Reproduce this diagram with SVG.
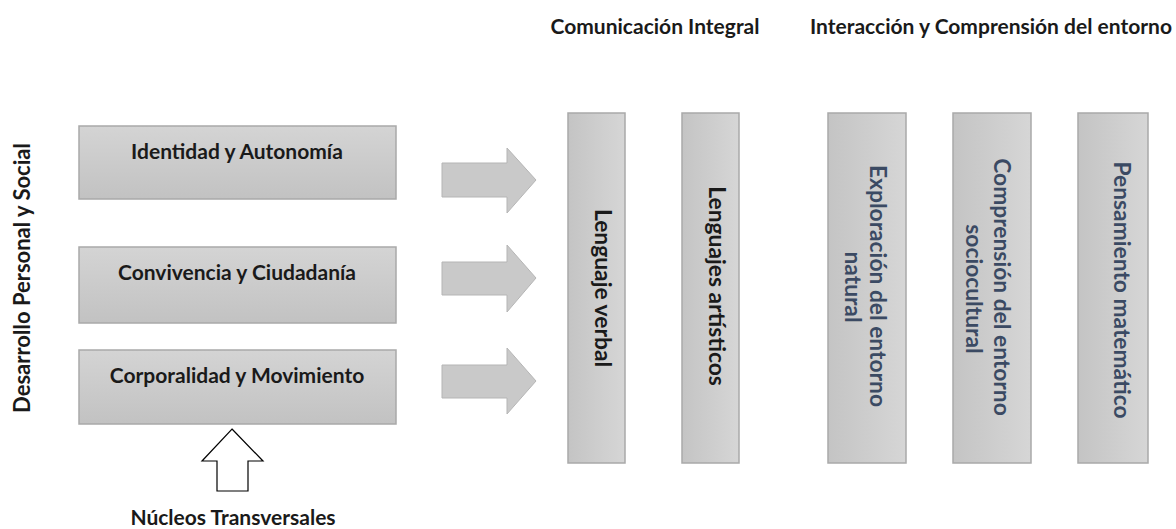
<svg xmlns="http://www.w3.org/2000/svg" width="1176" height="529" viewBox="0 0 1176 529">
<defs>
<linearGradient id="gh" x1="0" y1="0" x2="0" y2="1"><stop offset="0" stop-color="#d4d4d4"/><stop offset="1" stop-color="#c2c2c2"/></linearGradient>
<linearGradient id="gv" x1="0" y1="0" x2="1" y2="0"><stop offset="0" stop-color="#c4c4c4"/><stop offset="1" stop-color="#d6d6d6"/></linearGradient>
<style>
.hb{fill:url(#gh);stroke:#a9a9a9;stroke-width:1.5}
.vb{fill:url(#gv);stroke:#a9a9a9;stroke-width:1.5}
.ar{fill:#c9c9c9;stroke:#b5b5b5;stroke-width:1}
.t{font-family:Lato,"Liberation Sans",sans-serif;font-weight:bold;font-size:21px;fill:#1a1a1a;text-anchor:middle}
.tl{font-family:Lato,"Liberation Sans",sans-serif;font-weight:bold;font-size:22px;fill:#1a1a1a;text-anchor:middle}
.tv{font-family:Lato,"Liberation Sans",sans-serif;font-weight:bold;font-size:22.8px;fill:#1a1a1a;text-anchor:middle}
.tb{font-family:Lato,"Liberation Sans",sans-serif;font-weight:bold;font-size:22.8px;fill:#3b4a63;text-anchor:middle}
</style>
</defs>
<rect width="1176" height="529" fill="#ffffff"/>
<text class="t" x="655" y="34">Comunicación Integral</text>
<text class="t" x="991" y="34">Interacción y Comprensión del entorno</text>
<g id="desarrollo"><text class="tl" transform="translate(30,278) rotate(-90)">Desarrollo Personal y Social</text></g>
<g id="identidad"><rect class="hb" x="79" y="126" width="317" height="73"/><text class="t" x="237" y="159">Identidad y Autonomía</text></g>
<g id="convivencia"><rect class="hb" x="79" y="247" width="317" height="76"/><text class="t" x="237" y="280">Convivencia y Ciudadanía</text></g>
<g id="corporalidad"><rect class="hb" x="79" y="350" width="317" height="74"/><text class="t" x="237" y="383">Corporalidad y Movimiento</text></g>
<g id="connectors">
<polygon class="ar" points="442,163 507,163 507,148 536,180 507,213 507,197 442,197"/>
<polygon class="ar" points="442,262 507,262 507,245 536,278 507,312 507,295 442,295"/>
<polygon class="ar" points="442,365 507,365 507,348 536,381 507,414 507,398 442,398"/>
<polygon points="232,429 263,461 248,461 248,491 217,491 217,461 202,461" fill="#ffffff" stroke="#000" stroke-width="1.2"/>
</g>
<g id="nucleos"><text class="t" x="233" y="525">Núcleos Transversales</text></g>
<g id="lverbal"><rect class="vb" x="568" y="113" width="57" height="350"/><text class="tv" transform="translate(595,288) rotate(90)">Lenguaje verbal</text></g>
<g id="lartisticos"><rect class="vb" x="682" y="113" width="57" height="350"/><text class="tv" transform="translate(709,286) rotate(90)">Lenguajes artísticos</text></g>
<g id="exploracion"><rect class="vb" x="828" y="113" width="78" height="350"/><text class="tb" transform="translate(870,286) rotate(90)">Exploración del entorno</text><text class="tb" transform="translate(845,287) rotate(90)">natural</text></g>
<g id="comprension"><rect class="vb" x="953" y="113" width="78" height="350"/><text class="tb" transform="translate(994,287) rotate(90)">Comprensión del entorno</text><text class="tb" transform="translate(966,289) rotate(90)">sociocultural</text></g>
<g id="pensamiento"><rect class="vb" x="1078" y="113" width="70" height="350"/><text class="tb" transform="translate(1114,290) rotate(90)">Pensamiento matemático</text></g>
</svg>
